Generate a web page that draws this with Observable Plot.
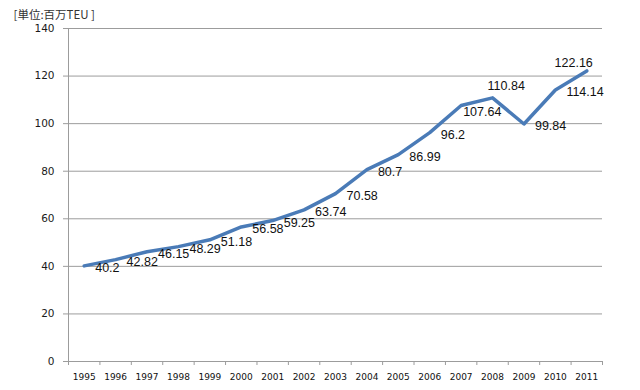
<!DOCTYPE html>
<html><head><meta charset="utf-8">
<script src="https://cdn.jsdelivr.net/npm/d3@7"></script>
<script src="https://cdn.jsdelivr.net/npm/@observablehq/plot@0.6"></script>
<style>body{margin:0;background:#fff;}</style>
</head><body><div id="chart"></div>
<script>
const years = [1995,1996,1997,1998,1999,2000,2001,2002,2003,2004,2005,2006,2007,2008,2009,2010,2011];
const teu = [40.2,42.82,46.15,48.29,51.18,56.58,59.25,63.74,70.58,80.7,86.99,96.2,107.64,110.84,99.84,114.14,122.16];
const yTicks = [0,20,40,60,80,100,120,140];
const unitLabel = "[単位:百万TEU ]";

const data = years.map((year, i) => ({year, value: teu[i]}));
const boundaries = [...years.map(y => y - 0.5), years[years.length - 1] + 0.5];
const gray = "#9c9c9c";
const special = new Set([2007, 2008, 2011]);
const labelStyle = {x: "year", y: "value", text: d => String(d.value), fontSize: 12.5, fill: "#111"};

const chart = Plot.plot({
  width: 640, height: 390,
  marginLeft: 68, marginRight: 38, marginTop: 28, marginBottom: 29,
  style: {fontFamily: "'Liberation Sans', Arial, sans-serif", background: "#fff", overflow: "visible"},
  x: {type: "linear", domain: [boundaries[0], boundaries[boundaries.length - 1]], label: null},
  y: {domain: [0, 140], label: null},
  marks: [
    Plot.gridY({ticks: yTicks, stroke: gray, strokeOpacity: 1}),
    Plot.ruleX([boundaries[0]], {stroke: gray}),
    Plot.axisY({ticks: yTicks, tickSize: 5, tickPadding: 9, stroke: gray, fill: "#1a1a1a", fontSize: 10.5, fontFamily: "'DejaVu Sans', Verdana, sans-serif", label: null}),
    Plot.axisX({ticks: boundaries, tickSize: 4, tickFormat: () => "", stroke: gray, label: null}),
    Plot.axisX({ticks: years, tickSize: 0, tickPadding: 12, tickFormat: d => String(d), fill: "#111", fontSize: 9, fontFamily: "'DejaVu Sans', Verdana, sans-serif", label: null}),
    Plot.line(data, {x: "year", y: "value", stroke: "#4a7bb7", strokeWidth: 3.5, strokeLinejoin: "round", strokeLinecap: "round"}),
    Plot.text(data.filter(d => !special.has(d.year)), {...labelStyle, textAnchor: "start", dx: 11, dy: 2}),
    Plot.text(data.filter(d => d.year === 2007), {...labelStyle, textAnchor: "start", dx: 2, dy: 7}),
    Plot.text(data.filter(d => d.year === 2008), {...labelStyle, textAnchor: "start", dx: -5, dy: -12}),
    Plot.text(data.filter(d => d.year === 2011), {...labelStyle, textAnchor: "end", dx: 6, dy: -8}),
    Plot.text([unitLabel], {frameAnchor: "top-left", textAnchor: "start", lineAnchor: "middle", dx: -55, dy: -13, fontSize: 11.5, fill: "#333", fontFamily: "'Noto Sans CJK JP', sans-serif"})
  ]
});
document.getElementById("chart").appendChild(chart);
</script>
</body></html>
